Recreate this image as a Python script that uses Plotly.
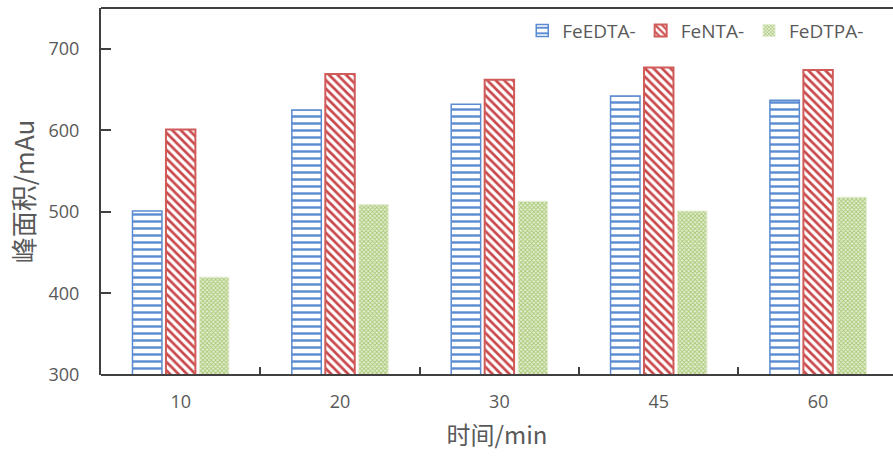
import plotly.graph_objects as go

# 反应时间（min）与三种络合物的峰面积
times = ["10", "20", "30", "45", "60"]
fe_edta = [501, 625, 632, 642, 637]
fe_nta = [601, 669, 662, 677, 674]
fe_dtpa = [420, 509, 513, 501, 518]

y_ticks = [300, 400, 500, 600, 700]

fig = go.Figure()

fig.add_trace(go.Bar(
    name="FeEDTA-", x=times, y=fe_edta,
    marker=dict(
        color="white",
        line=dict(color="#5B8BD0", width=1.5),
        pattern=dict(shape="-", size=7, solidity=0.35,
                     fgcolor="#5B8BD0", bgcolor="white", fillmode="replace"),
    ),
))
fig.add_trace(go.Bar(
    name="FeNTA-", x=times, y=fe_nta,
    marker=dict(
        color="white",
        line=dict(color="#D05C5A", width=2),
        pattern=dict(shape="\\", size=6, solidity=0.45,
                     fgcolor="#C9484A", bgcolor="white", fillmode="replace"),
    ),
))
fig.add_trace(go.Bar(
    name="FeDTPA-", x=times, y=fe_dtpa,
    marker=dict(
        color="white",
        line=dict(color="#E2ECD0", width=1),
        pattern=dict(shape="x", size=3, solidity=0.5,
                     fgcolor="#A9C873", bgcolor="#E4EED4", fillmode="replace"),
    ),
))

tick_font = dict(family="Open Sans, Noto Sans, sans-serif", size=18, color="#595959")
x_title_font = dict(family="Noto Sans CJK SC, Noto Sans, sans-serif", size=24, color="#595959")
y_title_font = dict(family="Noto Sans CJK SC, Noto Sans, sans-serif", size=26, color="#595959")

axis_color = "#404040"

fig.update_layout(
    template="none",
    width=893, height=459,
    margin=dict(l=101, r=0, t=8, b=84),
    plot_bgcolor="white", paper_bgcolor="white",
    barmode="group", bargap=0.37, bargroupgap=0.12,
    showlegend=True,
    legend=dict(
        orientation="h", x=0.97, xanchor="right", y=0.99, yanchor="top",
        font=dict(family="Open Sans, Noto Sans, sans-serif", size=19, color="#595959"),
        bgcolor="rgba(0,0,0,0)", itemwidth=30, tracegroupgap=0,
    ),
    xaxis=dict(
        type="category", range=[-0.5, 4.47],
        showline=False,
        ticks="inside", tickson="boundaries", ticklen=8, tickcolor=axis_color, tickwidth=2,
        tickfont=tick_font, ticklabelstandoff=14,
        title=dict(text="时间/min", font=x_title_font, standoff=15),
        showgrid=False, zeroline=False,
    ),
    yaxis=dict(
        range=[300, 750], tickvals=y_ticks,
        showline=True, linecolor=axis_color, linewidth=2,
        ticks="inside", ticklen=10, tickcolor=axis_color, tickwidth=2,
        tickfont=tick_font, ticklabelstandoff=16,
        title=dict(text="峰面积/mAu", font=y_title_font, standoff=6),
        showgrid=False, zeroline=False,
    ),
    shapes=[
        # top frame line and bottom axis line across the plotting area
        dict(type="line", xref="paper", yref="paper", x0=0, x1=1, y0=1, y1=1,
             line=dict(color=axis_color, width=2), layer="above"),
        dict(type="line", xref="paper", yref="paper", x0=0, x1=1, y0=0, y1=0,
             line=dict(color=axis_color, width=2), layer="above"),
    ],
)

fig.write_html("out.html")
